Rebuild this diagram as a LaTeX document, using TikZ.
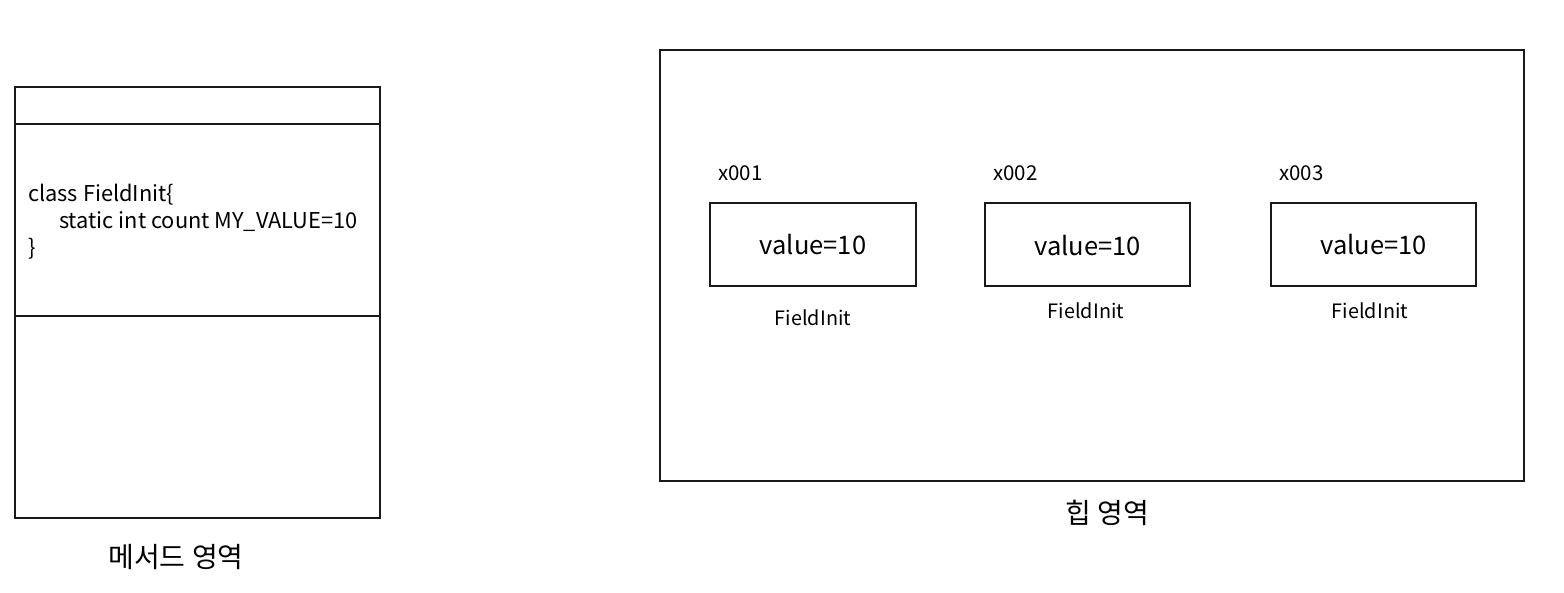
\documentclass[tikz,border=0pt]{standalone}
\usepackage{fontspec}
\setmainfont{Noto Sans CJK KR}
\tikzset{
  box/.style={draw=black!90, line width=2pt},
  lbl/.style={inner sep=0pt, font=\fontsize{19.8}{22}\selectfont},
  smalllbl/.style={inner sep=0pt, font=\fontsize{20.5}{22}\selectfont},
  valtxt/.style={inner sep=0pt, font=\fontsize{25.5}{28}\selectfont},
  areatxt/.style={inner sep=0pt, font=\fontsize{28}{30}\selectfont},
  codetxt/.style={inner sep=0pt, align=left, anchor=west, font=\fontsize{21.8}{27}\selectfont},
}
\begin{document}
\begin{tikzpicture}[x=1pt,y=-1pt]
\useasboundingbox (0,0) rectangle (1564,592);
% method area
\node[box, minimum width=365pt, minimum height=431pt, inner sep=0pt] (method) at (197.5,302.5) {};
\coordinate (d1l) at (15,124); \coordinate (d1r) at (380,124);
\coordinate (d2l) at (15,316); \coordinate (d2r) at (380,316);
\draw[box] (d1l) -- (d1r);
\draw[box] (d2l) -- (d2r);
\node[codetxt] (code) at (28,222) {class FieldInit\{\\\hspace*{31pt}static int count MY\_VALUE=10\\\}};
\node[areatxt] (mlabel) at (176,557) {메서드 영역};
% heap area
\node[box, minimum width=864pt, minimum height=431pt, inner sep=0pt] (heap) at (1092,265.5) {};
\node[areatxt] (hlabel) at (1107,513) {힙 영역};
\node[box, minimum width=206pt, minimum height=83pt, inner sep=0pt] (o1) at (813,244.5) {};
\node[box, minimum width=205pt, minimum height=83pt, inner sep=0pt] (o2) at (1087.5,244.5) {};
\node[box, minimum width=205pt, minimum height=83pt, inner sep=0pt] (o3) at (1373.5,244.5) {};
\node[valtxt] (v1) at (813,245) {value=10};
\node[valtxt] (v2) at (1087.5,246) {value=10};
\node[valtxt] (v3) at (1373.5,245) {value=10};
\node[smalllbl, anchor=west] (a1) at (718,173) {x001};
\node[smalllbl, anchor=west] (a2) at (993,173) {x002};
\node[smalllbl, anchor=west] (a3) at (1279,173) {x003};
\node[lbl] (f1) at (813,318) {FieldInit};
\node[lbl] (f2) at (1086,311) {FieldInit};
\node[lbl] (f3) at (1370,311) {FieldInit};
\end{tikzpicture}
\end{document}
